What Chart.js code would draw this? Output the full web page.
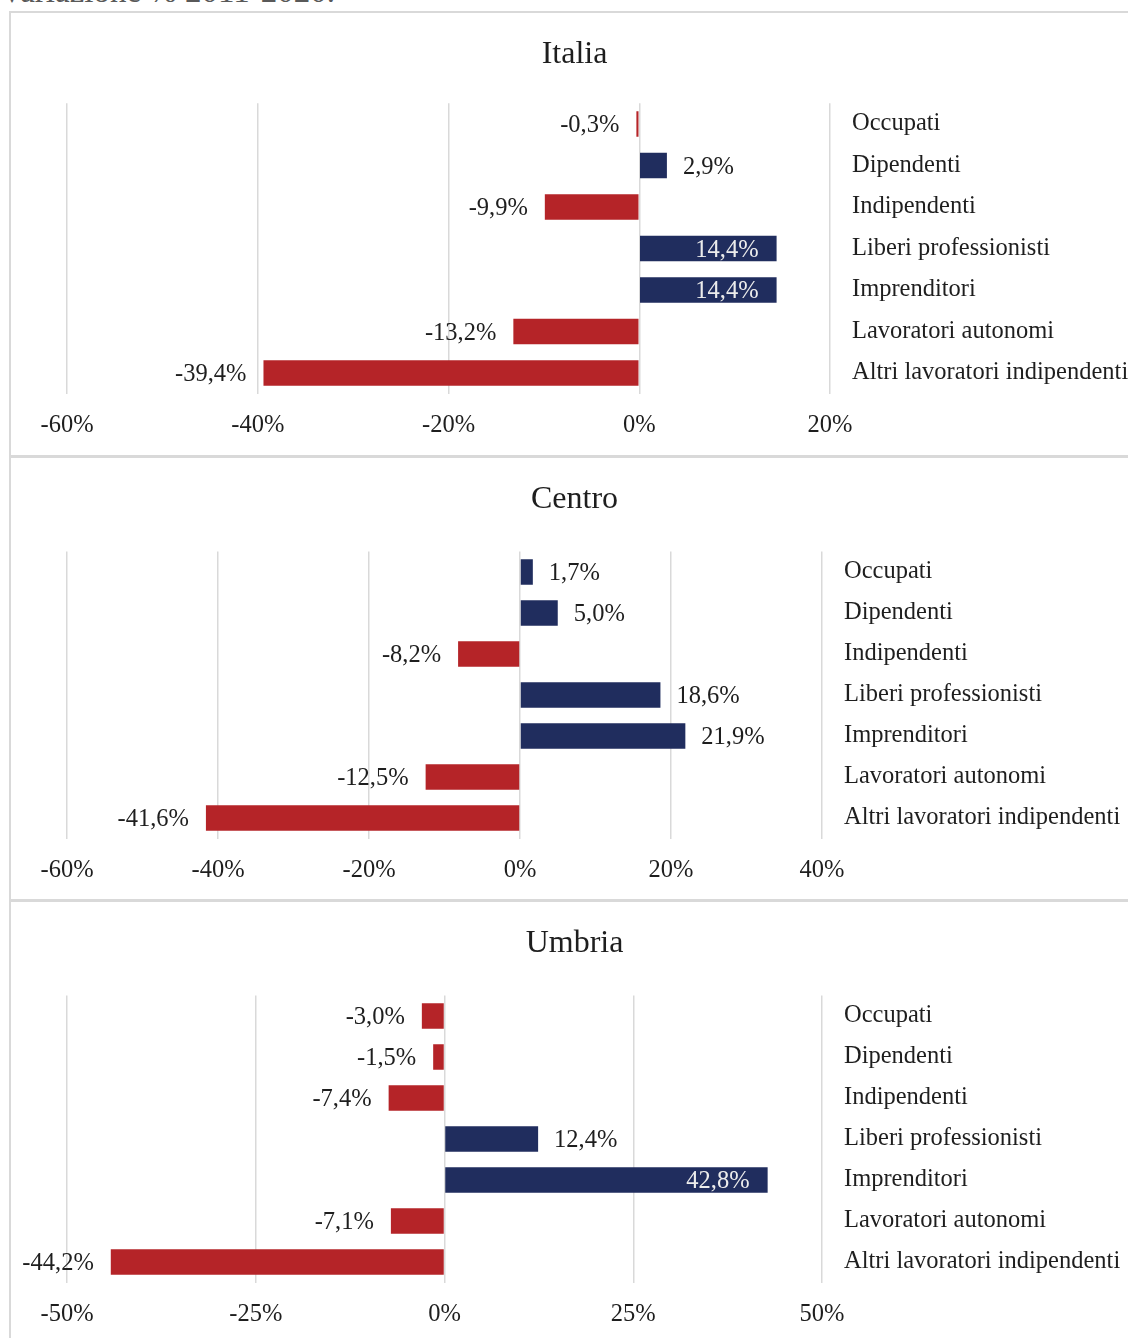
<!DOCTYPE html>
<html>
<head>
<meta charset="utf-8">
<script src="https://cdn.jsdelivr.net/npm/chart.js@4/dist/chart.umd.min.js"></script>
<style>
  html, body { margin: 0; padding: 0; background: #fff; overflow: hidden; }
  body { width: 1128px; height: 1338px; position: relative; }
  .panel { position: absolute; left: 9px; width: 1300px; border: 2px solid #d9d9d9; box-sizing: border-box; }
  canvas { position: absolute; left: 0; }
  #supt { position: absolute; left: 0; top: -25px; font: 33px "Liberation Serif", serif; line-height: 1; color: #595959; white-space: nowrap; }
</style>
</head>
<body>
<div id="supt">Variazione % 2011-2020.</div>
<div class="panel" style="top:11px;height:447px;"></div>
<div class="panel" style="top:455px;height:447px;"></div>
<div class="panel" style="top:899px;height:460px;"></div>
<canvas id="c1" width="1128" height="444" style="top:12px"></canvas>
<canvas id="c2" width="1128" height="444" style="top:456px"></canvas>
<canvas id="c3" width="1128" height="438" style="top:900px"></canvas>
<script>
const categories = ['Occupati', 'Dipendenti', 'Indipendenti', 'Liberi professionisti', 'Imprenditori', 'Lavoratori autonomi', 'Altri lavoratori indipendenti'];
const panelTitles = ['Italia', 'Centro', 'Umbria'];
const italiaValues = [-0.3, 2.9, -9.9, 14.4, 14.4, -13.2, -39.4];
const centroValues = [1.7, 5.0, -8.2, 18.6, 21.9, -12.5, -41.6];
const umbriaValues = [-3.0, -1.5, -7.4, 12.4, 42.8, -7.1, -44.2];
const italiaTicks = [-60, -40, -20, 0, 20];
const centroTicks = [-60, -40, -20, 0, 20, 40];
const umbriaTicks = [-50, -25, 0, 25, 50];

const FONT = '"Liberation Serif", "Times New Roman", serif';
const RED = '#b52428';
const NAVY = '#202d5e';
const TEXT = '#1e1e1e';

function fmt(v) { return v.toFixed(1).replace('.', ',') + '%'; }

const valueLabels = {
  id: 'valueLabels',
  afterDatasetsDraw(chart, args, opts) {
    const ctx = chart.ctx;
    const meta = chart.getDatasetMeta(0);
    const data = chart.data.datasets[0].data;
    ctx.save();
    ctx.font = '24.5px ' + FONT;
    ctx.textBaseline = 'middle';
    meta.data.forEach((bar, i) => {
      const v = data[i];
      const inside = (opts.inside || []).includes(i);
      const y = bar.y + 2;
      if (inside) {
        ctx.fillStyle = '#ececec';
        ctx.textAlign = v >= 0 ? 'right' : 'left';
        ctx.fillText(fmt(v), v >= 0 ? bar.x - 18 : bar.x + 18, y);
      } else {
        ctx.fillStyle = TEXT;
        ctx.textAlign = v >= 0 ? 'left' : 'right';
        ctx.fillText(fmt(v), v >= 0 ? bar.x + 16 : bar.x - 17, y);
      }
    });
    ctx.restore();
  }
};

const panelTitle = {
  id: 'panelTitle',
  afterDraw(chart, args, opts) {
    const ctx = chart.ctx;
    ctx.save();
    ctx.font = '32px ' + FONT;
    ctx.fillStyle = TEXT;
    ctx.textAlign = 'center';
    ctx.textBaseline = 'middle';
    ctx.fillText(opts.text, opts.x, opts.y);
    ctx.restore();
  }
};

function makeChart(id, title, values, ticks, opt) {
  new Chart(document.getElementById(id), {
    type: 'bar',
    data: {
      labels: categories,
      datasets: [{
        data: values,
        backgroundColor: values.map(v => v < 0 ? RED : NAVY),
        borderWidth: 0,
        categoryPercentage: 1,
        barPercentage: 0.62
      }]
    },
    plugins: [valueLabels, panelTitle],
    options: {
      indexAxis: 'y',
      responsive: false,
      animation: false,
      devicePixelRatio: 1,
      layout: { padding: { left: 67, right: 0, top: opt.top, bottom: 0 } },
      plugins: {
        legend: { display: false },
        tooltip: { enabled: false },
        title: { display: false },
        panelTitle: { text: title, x: 574.5, y: opt.titleY },
        valueLabels: { inside: opt.inside }
      },
      scales: {
        x: {
          type: 'linear',
          min: ticks[0],
          max: ticks[ticks.length - 1],
          afterBuildTicks: (s) => { s.ticks = ticks.map(v => ({ value: v })); },
          afterFit: (s) => { s.height = opt.xHeight; },
          grid: { display: true, color: '#d9d9d9', lineWidth: 1.5, drawTicks: false },
          border: { display: false },
          ticks: {
            padding: 17,
            color: TEXT,
            font: { family: FONT, size: 24.5 },
            callback: (v) => v + '%'
          }
        },
        y: {
          position: 'right',
          afterFit: (s) => { s.width = opt.yWidth; },
          grid: { display: false, drawTicks: false },
          border: { display: false },
          ticks: {
            padding: 22,
            color: TEXT,
            font: { family: FONT, size: 24.5 }
          }
        }
      }
    }
  });
}

makeChart('c1', panelTitles[0], italiaValues, italiaTicks,
  { top: 91.25, titleY: 42.5, xHeight: 62.25, yWidth: 298, inside: [3, 4] });
makeChart('c2', panelTitles[1], centroValues, centroTicks,
  { top: 95.5, titleY: 43.5, xHeight: 61.5, yWidth: 306, inside: [] });
makeChart('c3', panelTitles[2], umbriaValues, umbriaTicks,
  { top: 95.5, titleY: 43.5, xHeight: 55.5, yWidth: 306, inside: [4] });
</script>
</body>
</html>
